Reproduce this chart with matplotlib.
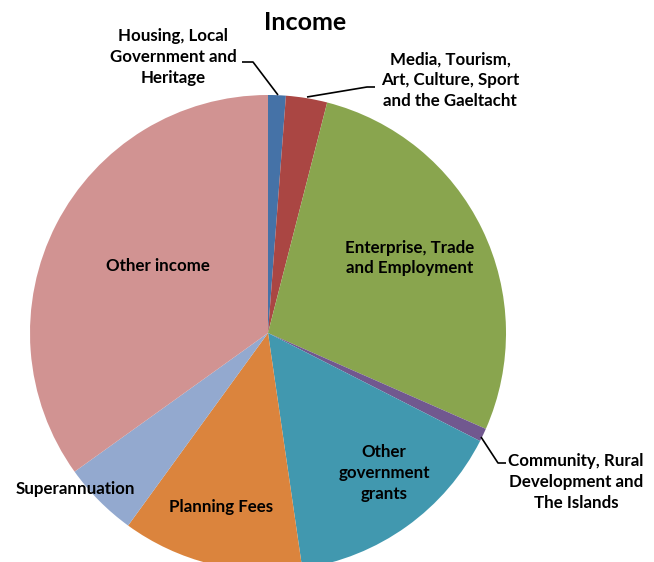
import matplotlib

matplotlib.use("Agg")
import matplotlib.pyplot as plt

# Income shares (%), clockwise from 12 o'clock
categories = [
    "Housing, Local\nGovernment and\nHeritage",
    "Media, Tourism,\nArt, Culture, Sport\nand the Gaeltacht",
    "Enterprise, Trade\nand Employment",
    "Community, Rural\nDevelopment and\nThe Islands",
    "Other\ngovernment\ngrants",
    "Planning Fees",
    "Superannuation",
    "Other income",
]
shares = [1.2, 2.8, 27.6, 0.9, 15.2, 12.3, 5.1, 34.9]
colors = ["#4572A7", "#AA4643", "#89A54E", "#71588F",
          "#4198AF", "#DB843D", "#93A9CF", "#D19392"]

W, H = 654, 562
CX, CY, R = 268, 333, 238  # pie centre / radius in pixels


def px(x, y):
    """pixel position (origin top-left) -> data coords of the unit pie"""
    return (x - CX) / R, (CY - y) / R


plt.rcParams["font.family"] = ["Lato", "DejaVu Sans"]

fig = plt.figure(figsize=(W / 100, H / 100), dpi=100)
ax = fig.add_axes([0, 0, 1, 1])
ax.pie(shares, colors=colors, startangle=90, counterclock=False,
       radius=1.0, wedgeprops=dict(linewidth=0))
ax.set_xlim(-CX / R, (W - CX) / R)
ax.set_ylim(-(H - CY) / R, CY / R)
ax.set_aspect("auto")
ax.axis("off")

fs = 12.2
# (label index, pixel centre)
label_pos = {
    0: (173, 57),
    1: (450, 80),
    2: (410, 258),
    3: (576, 482),
    4: (384, 473),
    5: (221, 507),
    6: (75, 489),
    7: (158, 266),
}
for i, (x, y) in label_pos.items():
    ax.text(*px(x, y), categories[i], ha="center", va="center",
            fontsize=fs, fontweight="bold", linespacing=1.38)

# leader lines for the thin slices
leaders = [
    [(242, 62), (253, 62), (278, 95)],
    [(375, 87), (367, 87), (307, 97)],
    [(481, 437), (498, 463), (506, 463)],
]
for pts in leaders:
    xs, ys = zip(*[px(x, y) for x, y in pts])
    ax.plot(xs, ys, color="black", lw=1.2, solid_capstyle="butt")

ax.text(*px(305, 22), "Income", ha="center", va="center",
        fontsize=18, fontweight="bold")

fig.savefig("out.png", dpi=100)
